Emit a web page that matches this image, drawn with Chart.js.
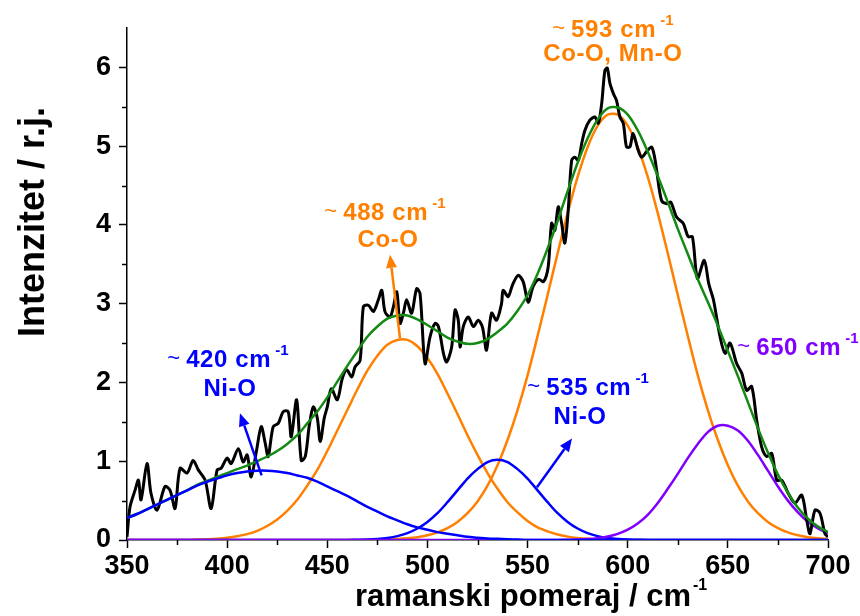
<!DOCTYPE html>
<html>
<head>
<meta charset="utf-8">
<script src="https://cdn.jsdelivr.net/npm/chart.js@4.4.1/dist/chart.umd.min.js"></script>
<style>
  html, body { margin: 0; padding: 0; background: #fff; }
  #wrap { width: 860px; height: 616px; }
</style>
</head>
<body>
<div id="wrap"><canvas id="raman" width="860" height="616"></canvas></div>
<script>
// Ramanski spektar - fitovanje na 5 komponenti

// x mreza za fitovane krive (cm-1)
const fitX = [
    350, 355, 360, 365, 370, 375, 380, 385, 390, 395,
    400, 405, 410, 415, 420, 425, 430, 435, 440, 445,
    450, 455, 460, 465, 470, 475, 480, 485, 490, 495,
    500, 505, 510, 515, 520, 525, 530, 535, 540, 545,
    550, 555, 560, 565, 570, 575, 580, 585, 590, 595,
    600, 605, 610, 615, 620, 625, 630, 635, 640, 645,
    650, 655, 660, 665, 670, 675, 680, 685, 690, 695,
    700
];

// komponenta ~420 (Ni-O)
const band420 = [
    0.28, 0.33, 0.39, 0.45, 0.51, 0.57, 0.63, 0.69, 0.74, 0.78,
    0.82, 0.85, 0.87, 0.88, 0.88, 0.87, 0.85, 0.82, 0.79, 0.74,
    0.68, 0.62, 0.56, 0.49, 0.42, 0.36, 0.30, 0.25, 0.20, 0.16,
    0.13, 0.10, 0.08, 0.06, 0.04, 0.03, 0.02, 0.015, 0.01, 0.005,
    0, 0, 0, 0, 0, 0, 0, 0, 0, 0,
    0, 0, 0, 0, 0, 0, 0, 0, 0, 0,
    0, 0, 0, 0, 0, 0, 0, 0, 0, 0,
    0
];

// komponenta ~488 (Co-O)
const band488 = [
    0, 0, 0, 0, 0, 0, 0, 0.005, 0.01, 0.017,
    0.028, 0.047, 0.075, 0.117, 0.178, 0.26, 0.37, 0.51, 0.69, 0.89,
    1.13, 1.39, 1.65, 1.91, 2.15, 2.34, 2.48, 2.54, 2.54, 2.46,
    2.31, 2.11, 1.86, 1.60, 1.33, 1.08, 0.85, 0.65, 0.48, 0.35,
    0.24, 0.16, 0.11, 0.07, 0.043, 0.026, 0.015, 0.009, 0.005, 0,
    0, 0, 0, 0, 0, 0, 0, 0, 0, 0,
    0, 0, 0, 0, 0, 0, 0, 0, 0, 0,
    0
];

// komponenta ~535 (Ni-O)
const band535 = [
    0, 0, 0, 0, 0, 0, 0, 0, 0, 0,
    0, 0, 0, 0, 0, 0, 0, 0, 0, 0,
    0, 0, 0, 0.003, 0.006, 0.013, 0.026, 0.049, 0.087, 0.146,
    0.23, 0.34, 0.48, 0.63, 0.78, 0.90, 0.99, 1.02, 0.99, 0.90,
    0.78, 0.63, 0.48, 0.34, 0.23, 0.146, 0.087, 0.049, 0.026, 0.013,
    0.006, 0.003, 0, 0, 0, 0, 0, 0, 0, 0,
    0, 0, 0, 0, 0, 0, 0, 0, 0, 0,
    0
];

// komponenta ~593 (Co-O, Mn-O)
const band593 = [
    0, 0, 0, 0, 0, 0, 0, 0, 0, 0,
    0, 0, 0, 0, 0, 0, 0, 0, 0, 0,
    0, 0, 0, 0, 0, 0, 0.007, 0.012, 0.021, 0.036,
    0.060, 0.096, 0.151, 0.23, 0.34, 0.49, 0.69, 0.95, 1.27, 1.65,
    2.09, 2.59, 3.11, 3.64, 4.15, 4.61, 4.99, 5.26, 5.40, 5.40,
    5.26, 4.99, 4.61, 4.15, 3.64, 3.11, 2.59, 2.09, 1.65, 1.27,
    0.95, 0.69, 0.49, 0.34, 0.23, 0.151, 0.096, 0.060, 0.036, 0.021,
    0.012
];

// komponenta ~650
const band650 = [
    0, 0, 0, 0, 0, 0, 0, 0, 0, 0,
    0, 0, 0, 0, 0, 0, 0, 0, 0, 0,
    0, 0, 0, 0, 0, 0, 0, 0, 0, 0,
    0, 0, 0, 0, 0, 0, 0, 0, 0, 0,
    0, 0, 0, 0, 0.003, 0.006, 0.012, 0.023, 0.044, 0.078,
    0.132, 0.21, 0.32, 0.47, 0.65, 0.84, 1.04, 1.22, 1.37, 1.45,
    1.45, 1.39, 1.26, 1.08, 0.88, 0.68, 0.50, 0.35, 0.23, 0.146,
    0.087
];

// zbirni fit
const fitSum = [
    0.28, 0.33, 0.39, 0.45, 0.51, 0.57, 0.63, 0.70, 0.75, 0.80,
    0.85, 0.90, 0.945, 1.00, 1.06, 1.13, 1.22, 1.33, 1.48, 1.63,
    1.81, 2.01, 2.21, 2.40, 2.58, 2.71, 2.81, 2.85, 2.85, 2.80,
    2.73, 2.65, 2.57, 2.52, 2.49, 2.50, 2.55, 2.64, 2.75, 2.91,
    3.11, 3.38, 3.70, 4.05, 4.43, 4.79, 5.10, 5.34, 5.48, 5.49,
    5.40, 5.20, 4.93, 4.62, 4.29, 3.95, 3.63, 3.31, 3.02, 2.72,
    2.40, 2.08, 1.75, 1.42, 1.11, 0.83, 0.60, 0.41, 0.27, 0.17,
    0.10
];

// izmereni spektar
const spectrumX = [
    350, 351.5, 354, 355.7, 357, 360, 362, 365, 369, 371.5,
    374, 376.5, 380, 383, 385.6, 389, 392, 395, 397, 400,
    402, 405.6, 408, 410, 412, 414.7, 417, 419, 420.5, 423,
    425.5, 428, 430.5, 432, 434.7, 437, 439, 441, 443, 445,
    446.5, 448.5, 450, 452, 455, 457.5, 459.7, 462.2, 463.9, 466.4,
    468, 470.5, 473, 475.5, 477.2, 478.8, 481.3, 483, 484.7, 486.3,
    488, 489.6, 492.1, 494.6, 496.3, 498.8, 501.3, 503.8, 505.5, 508,
    509.6, 512.1, 513.8, 515.4, 516.3, 517.9, 520.4, 522.9, 525.4, 527.5,
    529.5, 532, 534.5, 537, 537.8, 540.3, 542.5, 545.3, 547.8, 550.3,
    552.8, 555.5, 558, 560.3, 562, 563.6, 565.3, 567, 568.6, 570.3,
    572, 573.6, 575.3, 577, 578.6, 581.1, 583.6, 585.3, 587, 588.6,
    589.8, 591.1, 592.8, 594.4, 596.1, 597.8, 599.4, 601.1, 602.7, 605.2,
    606.9, 609.4, 611.9, 613.5, 614.4, 616.9, 619.5, 621.5, 624.4, 627.7,
    630.2, 632.3, 634.8, 638.2, 640.5, 642.8, 646.1, 648.6, 651.1, 654.4,
    656.9, 659.4, 661.9, 664.4, 666.9, 669.4, 671.9, 674.4, 676.9, 680.2,
    683.5, 686.9, 689.4, 691, 693.5, 696, 698.5, 700
];
const spectrumY = [
    0.04, 0.42, 0.63, 0.76, 0.51, 0.97, 0.59, 0.38, 0.68, 0.63,
    0.40, 0.91, 0.85, 1.01, 0.89, 0.76, 0.40, 0.89, 0.91, 1.04,
    0.97, 1.16, 0.99, 1.08, 0.80, 1.14, 1.44, 1.23, 1.06, 1.44,
    1.48, 1.63, 1.63, 1.31, 1.78, 1.01, 1.06, 1.45, 1.69, 1.55,
    1.25, 1.55, 1.69, 1.92, 1.78, 2.05, 2.16, 2.07, 2.20, 2.28,
    2.96, 2.98, 2.90, 3.05, 3.17, 2.90, 2.83, 2.96, 3.15, 2.75,
    2.88, 3.05, 2.88, 3.19, 3.13, 2.24, 2.58, 2.75, 2.71, 2.37,
    2.26, 2.45, 2.92, 2.79, 2.45, 2.71, 2.83, 2.71, 2.79, 2.70,
    2.41, 2.88, 2.79, 3.00, 3.17, 3.09, 3.24, 3.36, 3.28, 3.02,
    3.22, 3.31, 3.28, 3.47, 4.02, 3.93, 4.23, 4.02, 3.77, 4.19,
    4.82, 4.86, 4.82, 5.03, 5.20, 5.33, 5.37, 5.29, 5.54, 5.96,
    5.99, 5.80, 5.67, 5.58, 5.37, 5.29, 4.99, 4.99, 5.16, 4.95,
    4.86, 4.93, 4.99, 4.85, 4.70, 4.31, 4.27, 4.29, 4.10, 4.02,
    3.85, 3.85, 3.32, 3.55, 3.25, 3.05, 2.58, 2.37, 2.50, 2.24,
    2.12, 1.90, 1.95, 1.52, 1.18, 1.06, 1.10, 0.76, 0.76, 0.59,
    0.47, 0.57, 0.25, 0.08, 0.38, 0.34, 0.08, 0.04
];

// ose
const xTickMinor = [375, 425, 475, 525, 575, 625, 675];
const yTickMinor = [0.5, 1.5, 2.5, 3.5, 4.5, 5.5];

const FONT = '"Liberation Sans", Arial, sans-serif';
const C = {
    black: '#000000',
    green: '#148a14',
    orange: '#ff8000',
    blue: '#0000ff',
    purple: '#8000ff'
};

// oznake pikova: [tekst, sup, x, y, boja]
const peakLabels = [
    ['593 cm', '-1', 592.6, 6.38, C.orange],
    ['Co-O, Mn-O', '', 592.6, 6.08, C.orange],
    ['488 cm', '-1', 478.8, 4.06, C.orange],
    ['Co-O', '', 480.3, 3.72, C.orange],
    ['420 cm', '-1', 400.4, 2.19, C.blue],
    ['Ni-O', '', 401.4, 1.83, C.blue],
    ['535 cm', '-1', 580.2, 1.84, C.blue],
    ['Ni-O', '', 576.2, 1.47, C.blue],
    ['650 cm', '-1', 685.0, 2.35, C.purple]
];
// strelice: [x0, y0, x1, y1, boja]
const peakArrows = [
    [486.3, 2.56, 481.3, 3.62, C.orange],
    [417.2, 0.82, 406.4, 1.61, C.blue],
    [554.7, 0.67, 572.2, 1.29, C.blue]
];

function toPoints(xs, ys) {
    return xs.map((x, i) => ({ x: x, y: ys[i] }));
}

function drawLabel(ctx, cx, cy, text, sup, color) {
    const parts = [];
    if (sup) parts.push({ t: '~ ', f: 'normal 22px ' + FONT, dy: -2, ls: '0px' });
    parts.push({ t: text, f: 'bold 24px ' + FONT, dy: 0, ls: '0.6px' });
    if (sup) parts.push({ t: ' ' + sup, f: 'bold 15px ' + FONT, dy: -12, ls: '0px' });
    let total = 0;
    parts.forEach(p => {
        ctx.font = p.f;
        ctx.letterSpacing = p.ls;
        p.w = ctx.measureText(p.t).width;
        total += p.w;
    });
    let x = cx - total / 2;
    ctx.fillStyle = color;
    ctx.textBaseline = 'alphabetic';
    ctx.textAlign = 'left';
    parts.forEach(p => {
        ctx.font = p.f;
        ctx.letterSpacing = p.ls;
        ctx.fillText(p.t, x, cy + p.dy);
        x += p.w;
    });
    ctx.letterSpacing = '0px';
}

function drawArrow(ctx, x0, y0, x1, y1, color) {
    const ang = Math.atan2(y1 - y0, x1 - x0);
    const len = 13, half = 5.5;
    const bx = x1 - len * Math.cos(ang), by = y1 - len * Math.sin(ang);
    ctx.strokeStyle = color;
    ctx.fillStyle = color;
    ctx.lineWidth = 2.5;
    ctx.beginPath();
    ctx.moveTo(x0, y0);
    ctx.lineTo(bx, by);
    ctx.stroke();
    ctx.beginPath();
    ctx.moveTo(x1, y1);
    ctx.lineTo(bx + half * Math.sin(ang), by - half * Math.cos(ang));
    ctx.lineTo(bx - half * Math.sin(ang), by + half * Math.cos(ang));
    ctx.closePath();
    ctx.fill();
}

const notesPlugin = {
    id: 'ramanNotes',
    afterDraw(chart) {
        const { ctx, chartArea: area, scales: { x, y } } = chart;
        ctx.save();

        // sporedne podeoke
        ctx.strokeStyle = '#000';
        ctx.lineWidth = 1.5;
        xTickMinor.forEach(v => {
            const px = Math.round(x.getPixelForValue(v)) + 0.5;
            ctx.beginPath();
            ctx.moveTo(px, area.bottom);
            ctx.lineTo(px, area.bottom + 5);
            ctx.stroke();
        });
        yTickMinor.forEach(v => {
            const py = Math.round(y.getPixelForValue(v)) + 0.5;
            ctx.beginPath();
            ctx.moveTo(area.left - 5, py);
            ctx.lineTo(area.left, py);
            ctx.stroke();
        });

        // strelice i oznake
        peakArrows.forEach(a => {
            drawArrow(ctx, x.getPixelForValue(a[0]), y.getPixelForValue(a[1]),
                x.getPixelForValue(a[2]), y.getPixelForValue(a[3]), a[4]);
        });
        peakLabels.forEach(l => {
            drawLabel(ctx, x.getPixelForValue(l[2]), y.getPixelForValue(l[3]), l[0], l[1], l[4]);
        });

        // naslovi osa
        ctx.fillStyle = '#000';
        ctx.textBaseline = 'alphabetic';
        ctx.textAlign = 'left';
        ctx.font = 'bold 31px ' + FONT;
        const xt = 'ramanski pomeraj / cm';
        const xw = ctx.measureText(xt).width;
        ctx.fillText(xt, 355, 606);
        ctx.font = 'bold 16px ' + FONT;
        ctx.fillText('-1', 355 + xw + 2, 590);

        ctx.translate(44, 222);
        ctx.rotate(-Math.PI / 2);
        ctx.font = 'bold 36px ' + FONT;
        ctx.textAlign = 'center';
        ctx.fillText('Intenzitet / r.j.', 0, 0);

        ctx.restore();
    }
};

function lineSet(label, data, color, width, tension) {
    return {
        label: label,
        data: data,
        borderColor: color,
        backgroundColor: color,
        borderWidth: width,
        pointRadius: 0,
        fill: false,
        tension: tension
    };
}

new Chart(document.getElementById('raman'), {
    type: 'line',
    data: {
        datasets: [
            lineSet('~420', toPoints(fitX, band420), C.blue, 2.5, 0.3),
            lineSet('fit', toPoints(fitX, fitSum), C.green, 2.5, 0.3),
            lineSet('spektar', toPoints(spectrumX, spectrumY), C.black, 3, 0.3),
            lineSet('~650', toPoints(fitX, band650), C.purple, 2.5, 0.3),
            lineSet('~535', toPoints(fitX, band535), C.blue, 2.5, 0.3),
            lineSet('~593', toPoints(fitX, band593), C.orange, 2.5, 0.3),
            lineSet('~488', toPoints(fitX, band488), C.orange, 2.5, 0.3)
        ]
    },
    options: {
        responsive: false,
        animation: false,
        layout: { padding: { top: 28, right: 32, left: 0, bottom: 0 } },
        plugins: {
            legend: { display: false },
            tooltip: { enabled: false }
        },
        scales: {
            x: {
                type: 'linear',
                min: 350,
                max: 700,
                afterFit: scale => { scale.height = 76; },
                grid: { drawOnChartArea: false, drawTicks: true, tickLength: 8, tickColor: '#000', tickWidth: 1.5 },
                border: { display: true, color: '#000', width: 1.5 },
                ticks: { stepSize: 50, color: '#000', padding: 2, maxRotation: 0, font: { family: FONT, size: 27, weight: 'bold' } }
            },
            y: {
                min: 0,
                max: 6.5,
                afterFit: scale => { scale.width = 127; },
                afterBuildTicks: scale => { scale.ticks = scale.ticks.filter(t => Number.isInteger(t.value)); },
                grid: { drawOnChartArea: false, drawTicks: true, tickLength: 8, tickColor: '#000', tickWidth: 1.5 },
                border: { display: true, color: '#000', width: 1.5 },
                ticks: { stepSize: 1, color: '#000', padding: 8, font: { family: FONT, size: 27, weight: 'bold' } }
            }
        }
    },
    plugins: [notesPlugin]
});
</script>
</body>
</html>
